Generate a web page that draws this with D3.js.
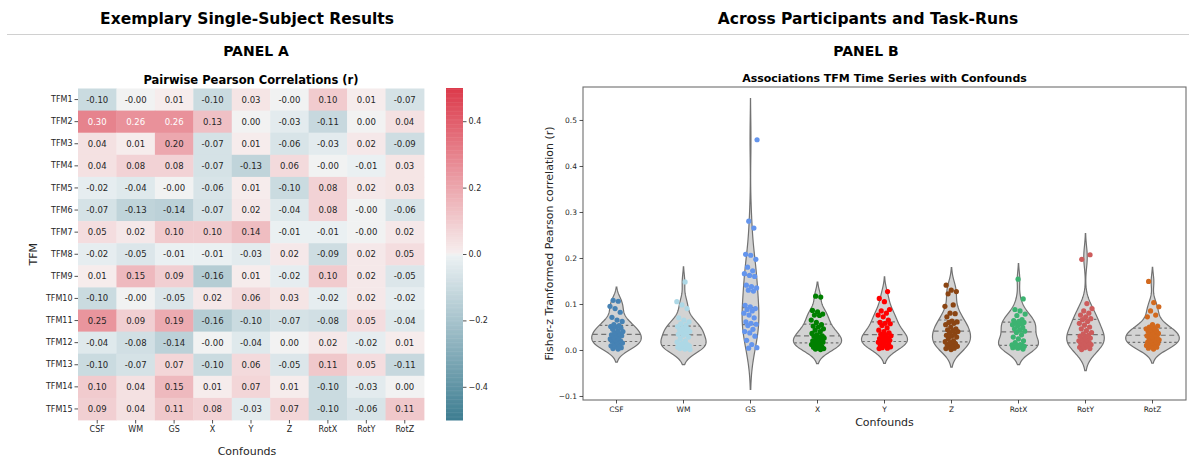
<!DOCTYPE html>
<html>
<head>
<meta charset="utf-8">
<script src="https://cdnjs.cloudflare.com/ajax/libs/d3/7.8.5/d3.min.js"></script>
<style>
  body { margin: 0; background: #fff; }
  text { font-family: "DejaVu Sans", sans-serif; }
</style>
</head>
<body>
<svg id="chart" width="1189" height="462"></svg>
<script>
// ---------- Panel A: single-subject correlation matrix ----------
const confounds = ["CSF", "WM", "GS", "X", "Y", "Z", "RotX", "RotY", "RotZ"];
const tfmLabels = ["TFM1", "TFM2", "TFM3", "TFM4", "TFM5", "TFM6", "TFM7", "TFM8",
                   "TFM9", "TFM10", "TFM11", "TFM12", "TFM13", "TFM14", "TFM15"];
// rows = TFM, columns = confounds (values shown as "-0.00" are small negatives)
const corrTFM1  = [-0.10, -0.001, 0.01, -0.10, 0.03, -0.001, 0.10, 0.01, -0.07];
const corrTFM2  = [0.30, 0.26, 0.26, 0.13, 0.00, -0.03, -0.11, 0.00, 0.04];
const corrTFM3  = [0.04, 0.01, 0.20, -0.07, 0.01, -0.06, -0.03, 0.02, -0.09];
const corrTFM4  = [0.04, 0.08, 0.08, -0.07, -0.13, 0.06, -0.001, -0.01, 0.03];
const corrTFM5  = [-0.02, -0.04, -0.001, -0.06, 0.01, -0.10, 0.08, 0.02, 0.03];
const corrTFM6  = [-0.07, -0.13, -0.14, -0.07, 0.02, -0.04, 0.08, -0.001, -0.06];
const corrTFM7  = [0.05, 0.02, 0.10, 0.10, 0.14, -0.01, -0.01, -0.001, 0.02];
const corrTFM8  = [-0.02, -0.05, -0.01, -0.01, -0.03, 0.02, -0.09, 0.02, 0.05];
const corrTFM9  = [0.01, 0.15, 0.09, -0.16, 0.01, -0.02, 0.10, 0.02, -0.05];
const corrTFM10 = [-0.10, -0.001, -0.05, 0.02, 0.06, 0.03, -0.02, 0.02, -0.02];
const corrTFM11 = [0.25, 0.09, 0.19, -0.16, -0.10, -0.07, -0.08, 0.05, -0.04];
const corrTFM12 = [-0.04, -0.08, -0.14, -0.001, -0.04, 0.00, 0.02, -0.02, 0.01];
const corrTFM13 = [-0.10, -0.07, 0.07, -0.10, 0.06, -0.05, 0.11, 0.05, -0.11];
const corrTFM14 = [0.10, 0.04, 0.15, 0.01, 0.07, 0.01, -0.10, -0.03, 0.00];
const corrTFM15 = [0.09, 0.04, 0.11, 0.08, -0.03, 0.07, -0.10, -0.06, 0.11];
const colorbarTicks = [-0.4, -0.2, 0.0, 0.2, 0.4];

// ---------- Panel B: Fisher-z correlations across participants/runs ----------
const zCSF  = [0.002, 0.003, 0.005, 0.007, 0.009, 0.011, 0.013, 0.015, 0.017, 0.019, 0.020, 0.022,
               0.024, 0.026, 0.028, 0.031, 0.033, 0.033, 0.035, 0.037, 0.040, 0.042, 0.045, 0.048,
               0.050, 0.051, 0.053, 0.055, 0.062, 0.065, 0.071, 0.082, 0.090, 0.095, 0.106, 0.108];
const zWM   = [0.001, 0.002, 0.003, 0.004, 0.005, 0.006, 0.007, 0.008, 0.009, 0.010, 0.011, 0.012,
               0.014, 0.017, 0.020, 0.024, 0.028, 0.032, 0.034, 0.036, 0.038, 0.040, 0.042, 0.044,
               0.046, 0.048, 0.051, 0.054, 0.057, 0.061, 0.065, 0.070, 0.090, 0.098, 0.105, 0.148];
const zGS   = [0.004, 0.005, 0.012, 0.021, 0.030, 0.037, 0.040, 0.045, 0.053, 0.056, 0.058, 0.061,
               0.070, 0.076, 0.080, 0.085, 0.088, 0.090, 0.094, 0.097, 0.128, 0.130, 0.135, 0.138,
               0.141, 0.160, 0.162, 0.166, 0.172, 0.180, 0.197, 0.206, 0.208, 0.265, 0.280, 0.457];
const zX    = [0.001, 0.002, 0.003, 0.004, 0.006, 0.008, 0.010, 0.012, 0.014, 0.016, 0.017, 0.018,
               0.020, 0.022, 0.024, 0.026, 0.028, 0.030, 0.031, 0.033, 0.036, 0.040, 0.043, 0.046,
               0.050, 0.052, 0.055, 0.060, 0.065, 0.075, 0.076, 0.078, 0.083, 0.086, 0.115, 0.117];
const zY    = [0.003, 0.004, 0.005, 0.007, 0.009, 0.011, 0.013, 0.015, 0.017, 0.019, 0.020, 0.021,
               0.023, 0.025, 0.027, 0.029, 0.031, 0.033, 0.034, 0.037, 0.040, 0.043, 0.048, 0.053,
               0.057, 0.058, 0.060, 0.065, 0.072, 0.076, 0.080, 0.085, 0.088, 0.105, 0.112, 0.127];
const zZ    = [0.001, 0.003, 0.004, 0.006, 0.008, 0.010, 0.012, 0.014, 0.016, 0.018, 0.020, 0.025,
               0.028, 0.030, 0.032, 0.035, 0.038, 0.040, 0.042, 0.044, 0.046, 0.050, 0.055, 0.058,
               0.060, 0.061, 0.063, 0.072, 0.079, 0.080, 0.095, 0.098, 0.122, 0.127, 0.130, 0.141];
const zRotX = [0.002, 0.004, 0.005, 0.006, 0.007, 0.008, 0.008, 0.009, 0.010, 0.010, 0.011, 0.012,
               0.016, 0.020, 0.024, 0.028, 0.033, 0.038, 0.041, 0.043, 0.046, 0.049, 0.052, 0.055,
               0.057, 0.059, 0.060, 0.062, 0.064, 0.066, 0.075, 0.078, 0.085, 0.088, 0.111, 0.154];
const zRotY = [0.001, 0.003, 0.005, 0.006, 0.008, 0.010, 0.012, 0.013, 0.014, 0.016, 0.018, 0.020,
               0.022, 0.024, 0.026, 0.028, 0.030, 0.032, 0.035, 0.038, 0.042, 0.046, 0.050, 0.054,
               0.058, 0.062, 0.066, 0.068, 0.072, 0.076, 0.080, 0.085, 0.090, 0.101, 0.197, 0.207];
const zRotZ = [0.002, 0.004, 0.006, 0.008, 0.010, 0.012, 0.013, 0.014, 0.015, 0.017, 0.018, 0.020,
               0.022, 0.024, 0.026, 0.027, 0.029, 0.031, 0.033, 0.035, 0.036, 0.038, 0.040, 0.042,
               0.044, 0.046, 0.047, 0.050, 0.052, 0.055, 0.072, 0.076, 0.085, 0.094, 0.103, 0.149];
const pointColors = ["steelblue", "lightblue", "cornflowerblue", "green", "red",
                     "saddlebrown", "mediumseagreen", "indianred", "chocolate"];
const violinTicks = [-0.1, 0.0, 0.1, 0.2, 0.3, 0.4, 0.5];

// -----------------------------------------------------------------------------
const corrRows = [corrTFM1, corrTFM2, corrTFM3, corrTFM4, corrTFM5, corrTFM6, corrTFM7, corrTFM8,
                  corrTFM9, corrTFM10, corrTFM11, corrTFM12, corrTFM13, corrTFM14, corrTFM15];
const zSeries = [zCSF, zWM, zGS, zX, zY, zZ, zRotX, zRotY, zRotZ];

const svg = d3.select("#chart");
const ink = "#262626";

// headers
svg.append("text").attr("x", 247).attr("y", 24).attr("text-anchor", "middle")
  .attr("font-size", 15.5).attr("font-weight", "bold").attr("fill", "#000")
  .text("Exemplary Single-Subject Results");
svg.append("text").attr("x", 868).attr("y", 24).attr("text-anchor", "middle")
  .attr("font-size", 15.5).attr("font-weight", "bold").attr("fill", "#000")
  .text("Across Participants and Task-Runs");
svg.append("line").attr("x1", 7).attr("x2", 1189).attr("y1", 34.5).attr("y2", 34.5)
  .attr("stroke", "#d0d0d0").attr("stroke-width", 1);
svg.append("text").attr("x", 256).attr("y", 56).attr("text-anchor", "middle")
  .attr("font-size", 14).attr("font-weight", "bold").attr("fill", "#000").text("PANEL A");
svg.append("text").attr("x", 866).attr("y", 56).attr("text-anchor", "middle")
  .attr("font-size", 14).attr("font-weight", "bold").attr("fill", "#000").text("PANEL B");

// ---------- heatmap ----------
const hm = { left: 78, right: 424, top: 88.5, bottom: 420 };
const hx = d3.scaleBand().domain(confounds).range([hm.left, hm.right]);
const hy = d3.scaleBand().domain(tfmLabels).range([hm.top, hm.bottom]);

// diverging map: teal - light gray - red
const cmap = d3.scaleLinear()
  .domain([-0.5, -0.004, 0, 0.004, 0.5])
  .range(["#3d7d91", "#ecf1f3", "#f2f2f2", "#f6eeee", "#dc3a4b"])
  .interpolate(d3.interpolateRgb)
  .clamp(true);

function relLum(c) {
  const rgb = d3.rgb(c);
  const lin = v => { v /= 255; return v <= 0.03928 ? v / 12.92 : Math.pow((v + 0.055) / 1.055, 2.4); };
  return 0.2126 * lin(rgb.r) + 0.7152 * lin(rgb.g) + 0.0722 * lin(rgb.b);
}

svg.append("text").attr("x", hx.range ? (hm.left + hm.right) / 2 : 0).attr("y", 83.5)
  .attr("text-anchor", "middle").attr("font-size", 11.5).attr("font-weight", "bold")
  .attr("fill", "#000").text("Pairwise Pearson Correlations (r)");

const cells = [];
corrRows.forEach((row, i) => row.forEach((v, j) => cells.push({ r: tfmLabels[i], c: confounds[j], v })));

const gCells = svg.append("g");
gCells.selectAll("rect").data(cells).join("rect")
  .attr("x", d => hx(d.c)).attr("y", d => hy(d.r))
  .attr("width", hx.bandwidth() + 0.4).attr("height", hy.bandwidth() + 0.4)
  .attr("fill", d => cmap(d.v));
gCells.selectAll("text").data(cells).join("text")
  .attr("x", d => hx(d.c) + hx.bandwidth() / 2)
  .attr("y", d => hy(d.r) + hy.bandwidth() / 2)
  .attr("dy", "0.35em").attr("text-anchor", "middle").attr("font-size", 8.5)
  .attr("fill", d => relLum(cmap(d.v)) > 0.408 ? ink : "#fff")
  .text(d => d.v.toFixed(2));

const hAxisY = d3.axisLeft(hy).tickSize(3.5).tickPadding(2);
const gHY = svg.append("g").attr("transform", `translate(${hm.left},0)`).call(hAxisY);
const hAxisX = d3.axisBottom(hx).tickSize(3.5).tickPadding(3);
const gHX = svg.append("g").attr("transform", `translate(0,${hm.bottom})`).call(hAxisX);
[gHY, gHX].forEach(g => {
  g.select(".domain").remove();
  g.selectAll(".tick line").attr("stroke", ink).attr("stroke-width", 0.8);
  g.selectAll(".tick text").attr("fill", ink).attr("font-size", 8)
    .attr("font-family", "DejaVu Sans, sans-serif");
});
svg.append("text").attr("transform", `translate(37,${(hm.top + hm.bottom) / 2}) rotate(-90)`)
  .attr("text-anchor", "middle").attr("font-size", 11).attr("fill", ink).text("TFM");
svg.append("text").attr("x", (hm.left + hm.right) / 2 - 4).attr("y", 455)
  .attr("text-anchor", "middle").attr("font-size", 11).attr("fill", ink).text("Confounds");

// colorbar
const cb = { x: 446, w: 17 };
const cy = d3.scaleLinear().domain([-0.5, 0.5]).range([hm.bottom, 88]);
const cbSteps = d3.range(-0.5, 0.5, 1 / 256);
svg.append("g").selectAll("rect").data(cbSteps).join("rect")
  .attr("x", cb.x).attr("width", cb.w)
  .attr("y", d => cy(d + 1 / 256)).attr("height", d => cy(d) - cy(d + 1 / 256) + 0.5)
  .attr("fill", d => cmap(d + 0.5 / 256));
const cbAxis = d3.axisRight(cy).tickValues(colorbarTicks).tickSize(3.5).tickPadding(2)
  .tickFormat(d3.format(".1f"));
const gCB = svg.append("g").attr("transform", `translate(${cb.x + cb.w},0)`).call(cbAxis);
gCB.select(".domain").remove();
gCB.selectAll(".tick line").attr("stroke", ink).attr("stroke-width", 0.8);
gCB.selectAll(".tick text").attr("fill", ink).attr("font-size", 8)
  .attr("font-family", "DejaVu Sans, sans-serif");

// ---------- violin plot ----------
const vp = { left: 583, right: 1186, top: 87, bottom: 400 };
const vx = d3.scaleBand().domain(confounds).range([vp.left, vp.right]);
const vy = d3.scaleLinear().domain([-0.1087, 0.5717]).range([vp.bottom, vp.top]);

svg.append("text").attr("x", (vp.left + vp.right) / 2).attr("y", 81.5)
  .attr("text-anchor", "middle").attr("font-size", 11).attr("font-weight", "bold")
  .attr("fill", "#000").text("Associations TFM Time Series with Confounds");

// Gaussian KDE with Scott's bandwidth, support extended by 2 bandwidths
function kde(values) {
  const n = values.length;
  const bw = d3.deviation(values) * Math.pow(n, -0.2);
  const lo = d3.min(values) - 2 * bw, hi = d3.max(values) + 2 * bw;
  const support = d3.range(100).map(i => lo + (hi - lo) * i / 99);
  const k = 1 / (n * bw * Math.sqrt(2 * Math.PI));
  const dens = support.map(s => k * d3.sum(values, v => Math.exp(-0.5 * ((s - v) / bw) ** 2)));
  return { support, dens };
}
const kdes = zSeries.map(kde);
const maxDens = d3.max(kdes, k => d3.max(k.dens));
const halfW = vx.bandwidth() * 0.4;

const gV = svg.append("g");
kdes.forEach((k, i) => {
  const cx = vx(confounds[i]) + vx.bandwidth() / 2;
  const pts = k.support.map((s, j) => ({ s, w: k.dens[j] / maxDens * halfW }));
  const area = d3.area().y(d => vy(d.s)).x0(d => cx - d.w).x1(d => cx + d.w);
  gV.append("path").attr("d", area(pts))
    .attr("fill", "#d3d3d3").attr("stroke", "#727272").attr("stroke-width", 1.2);
  // quartile lines
  const qs = [0.25, 0.5, 0.75].map(p => d3.quantile(zSeries[i], p));
  qs.forEach((q, qi) => {
    let idx = d3.minIndex(k.support, s => Math.abs(s - q));
    const w = k.dens[idx] / maxDens * halfW * 0.99;
    gV.append("line")
      .attr("x1", cx - w).attr("x2", cx + w).attr("y1", vy(q)).attr("y2", vy(q))
      .attr("stroke", "#727272").attr("stroke-width", 1.2)
      .attr("stroke-dasharray", qi === 1 ? "5,3.5" : "2.6,2.6");
  });
});

// strip points, spread horizontally with a fixed low-discrepancy pattern
const gP = svg.append("g");
zSeries.forEach((vals, i) => {
  const cx = vx(confounds[i]) + vx.bandwidth() / 2;
  gP.selectAll(null).data(vals).join("circle")
    .attr("cx", (d, j) => cx + ((((j + 1) * 0.6180339887 + i * 0.37) % 1) - 0.5) * 0.2 * vx.bandwidth())
    .attr("cy", d => vy(d))
    .attr("r", 2.6)
    .attr("fill", pointColors[i]);
});

// frame and axes
svg.append("rect").attr("x", vp.left).attr("y", vp.top)
  .attr("width", vp.right - vp.left).attr("height", vp.bottom - vp.top)
  .attr("fill", "none").attr("stroke", "#6e6e6e").attr("stroke-width", 1.1);
const vAxisY = d3.axisLeft(vy).tickValues(violinTicks).tickSize(3.5).tickPadding(2.5)
  .tickFormat(d3.format(".1f"));
const gVY = svg.append("g").attr("transform", `translate(${vp.left},0)`).call(vAxisY);
const vAxisX = d3.axisBottom(vx).tickSize(3.5).tickPadding(3);
const gVX = svg.append("g").attr("transform", `translate(0,${vp.bottom})`).call(vAxisX);
[gVY, gVX].forEach(g => {
  g.select(".domain").remove();
  g.selectAll(".tick line").attr("stroke", ink).attr("stroke-width", 0.8);
  g.selectAll(".tick text").attr("fill", ink).attr("font-size", 7.5)
    .attr("font-family", "DejaVu Sans, sans-serif");
});
svg.append("text").attr("transform", `translate(553,${(vp.top + vp.bottom) / 2}) rotate(-90)`)
  .attr("text-anchor", "middle").attr("font-size", 11).attr("fill", ink)
  .text("Fisher-z Tranformed Pearson correlation (r)");
svg.append("text").attr("x", (vp.left + vp.right) / 2).attr("y", 426)
  .attr("text-anchor", "middle").attr("font-size", 11).attr("fill", ink).text("Confounds");
</script>
</body>
</html>
